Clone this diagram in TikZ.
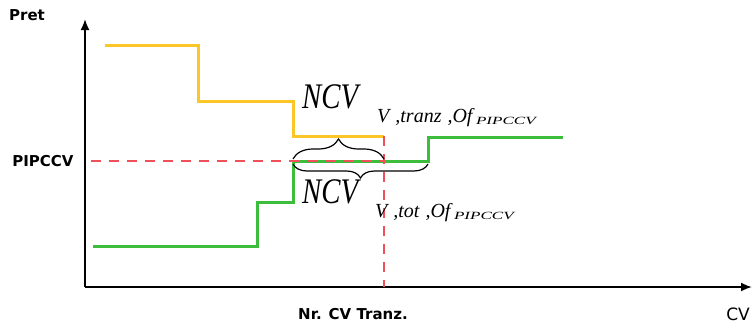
\documentclass[tikz,border=0pt]{standalone}
\usepackage{fontspec}
\newfontfamily\labelfont{DejaVu Sans}
\newfontfamily\eqfont{Liberation Serif}
\usetikzlibrary{arrows.meta,decorations.pathreplacing}

\definecolor{offeryellow}{RGB}{250,198,40}
\definecolor{offergreen}{RGB}{60,190,60}
\definecolor{levelred}{RGB}{240,80,90}

\begin{document}
\begin{tikzpicture}[x=1pt,y=-1pt,
	axis/.style={line width=1.8pt,-{Latex[length=11pt,width=9pt]}},
	offer/.style={line width=3pt},
	level/.style={levelred,line width=2.2pt,dash pattern=on 10pt off 8pt},
	curly/.style={decorate,decoration={brace,amplitude=#1},line width=1.2pt},
	axislabel/.style={font=\labelfont\bfseries\fontsize{15}{15}\selectfont},
	bigsym/.style={anchor=base west,inner sep=0pt,xscale=0.8,font=\eqfont\itshape\fontsize{36}{36}\selectfont},
	subsym/.style={anchor=base west,inner sep=0pt,font=\eqfont\itshape\fontsize{20}{20}\selectfont},
	subsubsym/.style={anchor=base west,inner sep=0pt,xshift=3pt,yshift=-2pt,xscale=1.55,font=\eqfont\itshape\fontsize{11}{11}\selectfont}]
\useasboundingbox (0,0) rectangle (753,324);
% axes
\coordinate (o) at (85,287);
\coordinate (ytip) at (85,19);
\coordinate (xtip) at (752,287);
\draw[axis] (o) -- (ytip);
\draw[axis] (o) -- (xtip);
\node[axislabel] (pret) at (27,15) {Pret};
\node[axislabel] (pipccv) at (43,161) {PIPCCV};
\node[axislabel] (nrcv) at (353,314) {Nr. CV Tranz.};
\node[font=\labelfont\fontsize{17}{17}\selectfont] (cv) at (738,314) {CV};
% offer curves
\draw[offer,offeryellow] (105,45) -- (198,45) -- (198,101) -- (293,101) -- (293,136) -- (384,136);
\draw[offer,offergreen] (93,246) -- (257,246) -- (257,202) -- (293,202) -- (293,161) -- (428,161) -- (428,137) -- (563,137);
% price level and transit number
\coordinate (lvl) at (91,161);
\coordinate (cut) at (384,161);
\coordinate (cutbase) at (384,287);
\coordinate (cuttop) at (384,136);
\draw[level] (lvl) -- (cut);
\draw[level] (cuttop) -- (cutbase);
% braces
\coordinate (ta) at (293,159);
\coordinate (tb) at (384,159);
\coordinate (ua) at (428,164);
\coordinate (ub) at (293,164);
\draw[curly=20] (ta) -- (tb);
\draw[curly=14] (ua) -- (ub);
% labels
\node[bigsym] (ncvt) at (302,108) {NCV};
\node[subsym] (ncvtsub) at (377,122) {V\hspace{6pt},tranz\hspace{6pt},Of};
\node[subsubsym] (ncvtsubsub) at (ncvtsub.base east) {PIPCCV};
\node[bigsym] (ncvo) at (302,203) {NCV};
\node[subsym] (ncvosub) at (375,217) {V\hspace{6pt},tot\hspace{6pt},Of};
\node[subsubsym] (ncvosubsub) at (ncvosub.base east) {PIPCCV};
\end{tikzpicture}
\end{document}
